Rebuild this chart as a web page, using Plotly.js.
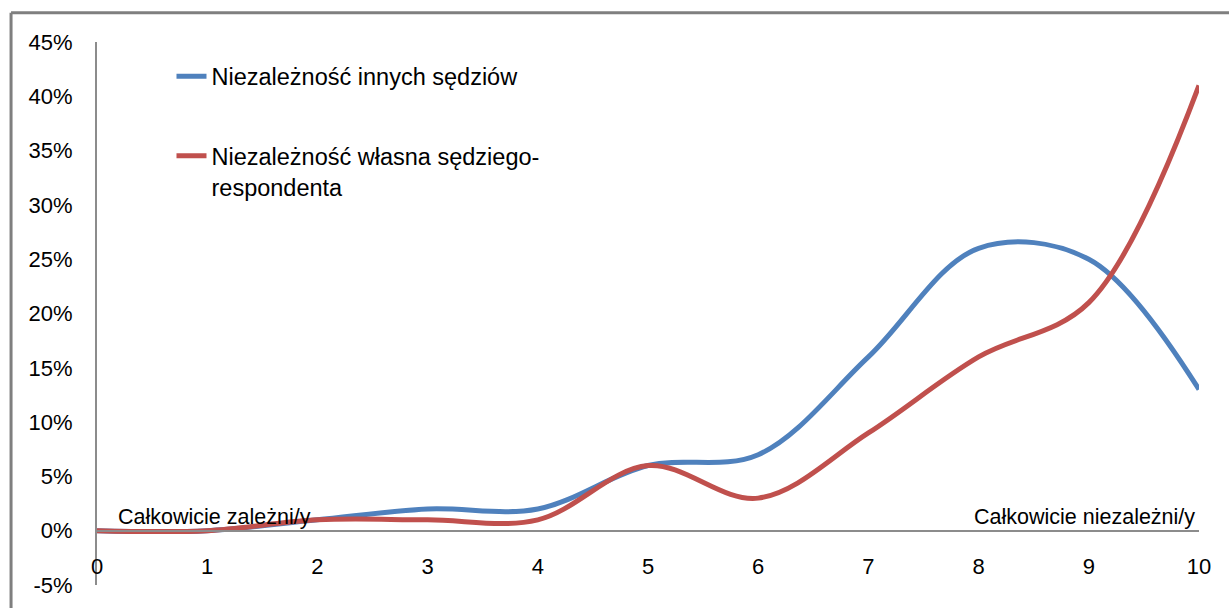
<!DOCTYPE html>
<html><head><meta charset="utf-8">
<script src="https://cdn.plot.ly/plotly-3.0.1.min.js"></script>
<style>
html,body{margin:0;padding:0;background:#fff;overflow:hidden;}
#chart{width:1229px;height:608px;}
</style></head><body>
<div id="chart"></div>
<script>
const categories = [0,1,2,3,4,5,6,7,8,9,10];
const innychSedziow = [0, 0, 0.01, 0.02, 0.02, 0.06, 0.07, 0.16, 0.26, 0.25, 0.13];
const wlasnaSedziego = [0, 0, 0.01, 0.01, 0.01, 0.06, 0.03, 0.09, 0.16, 0.21, 0.41];
const seriesNames = ["Niezależność innych sędziów", "Niezależność własna sędziego-<br>respondenta"];
const yTickVals = [-0.05,0,0.05,0.10,0.15,0.20,0.25,0.30,0.35,0.40,0.45];
const yTickText = ["-5%","0%","5%","10%","15%","20%","25%","30%","35%","40%","45%"];
const endLabels = ["Całkowicie zależni/y", "Całkowicie niezależni/y"];

const FONT = "Liberation Sans, Arial, sans-serif";
const traces = [
  {x: categories, y: innychSedziow, name: seriesNames[0], type: "scatter", mode: "lines",
   line: {color: "#4F81BD", width: 5, shape: "spline", smoothing: 1}, legendgroup: "a"},
  {x: categories, y: wlasnaSedziego, name: seriesNames[1], type: "scatter", mode: "lines",
   line: {color: "#C0504D", width: 5, shape: "spline", smoothing: 1}, legendgroup: "b"}
];
const layout = {
  width: 1229, height: 608,
  margin: {l: 97, r: 30, t: 42, b: 23},
  paper_bgcolor: "#fff", plot_bgcolor: "rgba(0,0,0,0)",
  font: {family: FONT, size: 20, color: "#000"},
  showlegend: true,
  legend: {x: 0.0676, y: 0.977, xanchor: "left", yanchor: "top", bgcolor: "rgba(0,0,0,0)",
           tracegroupgap: 46, valign: "top", font: {family: FONT, size: 23.5, color: "#000"}},
  xaxis: {range: [0, 10], anchor: "free", position: 0.1, tickvals: categories,
          showline: true, linecolor: "#8c8c8c", linewidth: 2, showgrid: false, zeroline: false,
          ticks: "", ticklabelstandoff: 16, tickfont: {family: FONT, size: 22}},
  yaxis: {range: [-0.05, 0.45], tickvals: yTickVals, ticktext: yTickText,
          showline: true, linecolor: "#8c8c8c", linewidth: 2, showgrid: false, zeroline: false,
          ticks: "", ticklabelstandoff: 18, tickfont: {family: FONT, size: 22}},
  shapes: [
    {type: "line", xref: "paper", yref: "paper", x0: -0.078, x1: -0.078, y0: -0.1, y1: 1.054,
     line: {color: "#7f7f7f", width: 3}, layer: "above"},
    {type: "line", xref: "paper", yref: "paper", x0: -0.078, x1: 1.1, y0: 1.054, y1: 1.054,
     line: {color: "#7f7f7f", width: 3}, layer: "above"}
  ],
  annotations: [
    {x: 0.17, y: 0, xref: "x", yref: "y", text: endLabels[0], showarrow: false,
     xanchor: "left", yanchor: "bottom", font: {family: FONT, size: 21.5}},
    {x: 9.98, y: 0, xref: "x", yref: "y", text: endLabels[1], showarrow: false,
     xanchor: "right", yanchor: "bottom", font: {family: FONT, size: 21.5}}
  ]
};
Plotly.newPlot("chart", traces, layout, {displayModeBar: false, staticPlot: true});
</script>
</body></html>
